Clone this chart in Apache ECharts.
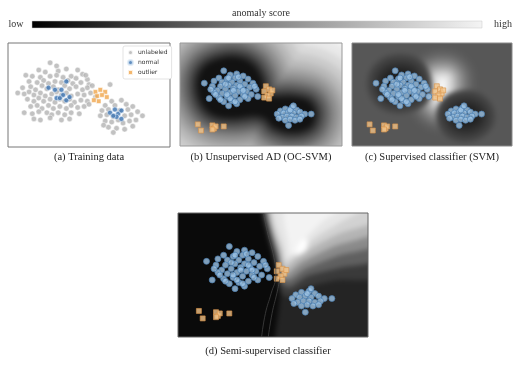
<!DOCTYPE html>
<html><head><meta charset="utf-8">
<script src="https://cdn.jsdelivr.net/npm/echarts@6/dist/echarts.min.js"></script>
<style>
html,body{margin:0;padding:0;background:#fff;}
#stage{position:relative;width:514px;height:365px;overflow:hidden;background:#fff;}
.clip{position:absolute;overflow:hidden;}
.bg{position:absolute;filter:blur(2.5px);}
#main{position:absolute;left:0;top:0;width:514px;height:365px;}
</style></head>
<body>
<div id="stage">
<div class="clip" id="clipB"><div class="bg" id="bgB"></div></div>
<div class="clip" id="clipC"><div class="bg" id="bgC"></div></div>
<div class="clip" id="clipD"><div class="bg" id="bgD"></div></div>
<div id="main"></div>
</div>
<script>
// ---------------- DATA (axis units 0..10 in every panel) ----------------
const captions = ['(a) Training data', '(b) Unsupervised AD (OC-SVM)', '(c) Supervised classifier (SVM)', '(d) Semi-supervised classifier'];
const legendNames = ['unlabeled', 'normal', 'outlier'];
const scaleTitle = 'anomaly score';
const scaleEnds = ['low', 'high'];

// (a) training data
const unlabeledA = [
 [2.6,8.1],[3.0,7.8],[1.9,7.4],[2.3,7.2],[3.1,7.3],[3.6,7.5],[4.3,7.4],[4.6,7.0],
 [1.1,6.9],[1.5,6.8],[2.0,6.7],[2.6,6.8],[3.0,6.9],[3.4,6.7],[3.9,6.8],[4.2,6.6],[4.9,6.5],
 [1.3,6.3],[1.8,6.2],[2.2,6.4],[2.5,6.1],[2.9,6.3],[3.3,6.2],[3.7,6.4],[4.0,6.1],[4.5,6.2],[5.0,6.0],
 [0.9,5.7],[1.4,5.8],[1.7,5.5],[2.1,5.9],[2.4,5.6],[2.8,5.8],[3.1,5.5],[3.5,5.9],[3.8,5.6],[4.2,5.8],[4.6,5.5],[4.9,5.7],
 [0.6,5.2],[1.0,5.1],[1.3,5.3],[1.6,5.0],[2.0,5.2],[2.3,4.9],[2.7,5.1],[3.0,5.3],[3.3,5.0],[3.6,5.2],[3.9,4.9],[4.3,5.1],[4.7,5.0],[5.1,5.2],[5.4,4.8],
 [1.2,4.6],[1.6,4.4],[1.9,4.7],[2.2,4.4],[2.6,4.6],[2.9,4.3],[3.2,4.6],[3.5,4.4],[3.8,4.6],[4.1,4.3],[4.5,4.5],[4.9,4.4],
 [1.4,3.9],[1.8,4.0],[2.1,3.7],[2.5,4.0],[2.8,3.7],[3.2,3.9],[3.6,3.7],[3.9,4.0],[4.3,3.8],[4.7,3.9],
 [1.0,3.3],[1.5,3.2],[1.9,3.4],[2.4,3.3],[2.7,3.1],[3.1,3.3],[3.5,3.1],[3.9,3.3],[4.4,3.2],
 [1.6,2.7],[2.0,2.6],[2.6,2.8],[3.3,2.6],[3.8,2.7],
 [5.2,5.9],[6.3,6.0],[5.0,4.1],[4.8,6.9],
 [6.4,4.4],[7.0,4.5],[6.0,4.0],[6.6,4.0],[7.3,4.1],[7.7,3.9],[5.8,3.5],[6.2,3.6],[6.9,3.5],[7.4,3.6],[8.0,3.4],
 [5.7,3.0],[6.1,3.1],[6.5,2.9],[7.2,3.0],[7.6,3.1],[8.3,3.0],[6.0,2.5],[6.4,2.4],[6.8,2.6],[7.1,2.3],[7.5,2.5],
 [7.9,2.6],[6.2,1.9],[6.7,1.8],[7.2,1.7],[7.7,2.0],[6.5,1.4],[5.9,2.1]
];
const normalA = [[2.5,5.7],[2.9,5.5],[3.3,5.5],[3.6,6.3],[3.4,5.0],[3.0,4.7],[3.2,4.7],[3.6,4.5],[3.8,4.8],
 [6.3,3.3],[6.6,3.6],[6.8,3.2],[7.0,3.5],[6.7,2.9],[7.0,2.7],[6.5,3.0]];
const outlierA = [[5.4,5.3],[5.7,5.5],[6.0,5.3],[5.5,4.9],[5.8,5.0],[6.1,4.8],[5.3,4.5],[5.6,4.4]];

// (b)(c)(d) labeled points
const normalLeft = [
 [2.7,7.3],[3.1,6.9],[3.5,7.0],[3.9,6.8],[3.4,6.6],[2.4,6.6],[2.9,6.5],[4.2,6.5],[3.7,6.3],[3.2,6.2],
 [2.6,6.2],[2.1,6.3],[1.5,6.1],[4.5,6.1],[4.0,6.0],[3.5,5.9],[3.0,5.9],[2.5,5.8],[2.0,5.8],[4.3,5.7],
 [3.8,5.6],[3.3,5.6],[2.8,5.5],[2.3,5.4],[4.7,5.5],[4.1,5.3],[3.6,5.3],[3.1,5.2],[2.6,5.1],[2.1,5.2],
 [4.4,5.0],[3.9,5.0],[3.4,4.9],[2.9,4.8],[2.4,4.7],[1.8,4.6],[4.8,4.8],[4.2,4.6],[3.7,4.5],[3.2,4.4],
 [2.7,4.3],[3.5,4.1],[3.0,3.9],[2.2,5.0],[3.3,5.4],[3.7,5.8],[2.8,6.0],[3.9,5.4],[4.0,4.8],[2.5,4.5],
 [3.6,6.7],[1.9,5.5],[4.6,5.8],[3.1,4.6],[2.9,5.0],[3.4,4.3],[3.0,6.6]
];
const normalRight = [
 [6.2,3.4],[6.5,3.6],[6.9,3.7],[7.2,3.5],[6.0,3.1],[6.4,3.2],[6.7,3.3],[7.0,3.2],[7.4,3.3],[7.7,3.1],
 [6.3,2.8],[6.6,2.9],[6.9,2.9],[7.2,2.8],[7.5,2.9],[6.5,2.5],[6.8,2.6],[7.1,2.5],[6.7,2.0],[8.1,3.1],
 [6.1,2.7],[7.4,2.6],[6.8,3.5],[7.0,3.9]
];
const outlierMid = [[5.3,5.8],[5.5,5.5],[5.2,5.3],[5.6,5.1],[5.4,4.9],[5.2,4.7],[5.5,4.6],[5.7,5.4]];
const outlierLow = [[1.1,2.1],[1.3,1.5],[2.0,2.0],[2.1,1.7],[2.2,1.9],[2.0,1.6],[2.7,1.9]];

// score-field shapes
const ocsvmCore = [[1.1,6.1],[1.5,7.6],[2.5,8.4],[3.6,8.5],[4.5,7.8],[5.0,6.5],[5.2,5.2],[5.7,4.7],[6.8,4.7],[7.9,4.3],
 [8.3,3.2],[8.0,1.9],[6.9,1.4],[5.8,1.9],[5.3,2.7],[4.6,3.0],[3.4,2.8],[2.2,3.0],[1.4,4.1]];
const svmLeftCore = [[2.0,6.3],[2.4,7.1],[3.0,7.3],[3.6,7.1],[3.9,6.3],[3.9,5.3],[3.4,4.9],[2.8,4.8],[2.2,5.2]];
const svmRightCore = [[6.4,3.4],[7.0,3.8],[7.6,3.6],[7.9,2.9],[7.6,2.2],[6.9,2.0],[6.4,2.5]];
const svmPeak = [[5.5,6.4],[5.8,6.4],[5.8,4.4],[5.5,4.4]];
const semiMid = [[5.1,-0.8],[5.1,0],[5.3,2.3],[5.4,4.2],[5.3,5.6],[4.8,7.6],[4.5,10],[4.4,10.8],[10.8,10.8],[10.8,-0.8]];
const semiPlume = [
 [[5.4,3.6],[5.1,6.0],[4.7,8.4],[4.5,10.4],[10.4,10.4],[10.4,4.8],[8.4,4.6],[6.7,4.0],[5.8,3.2]],
 [[5.45,4.3],[5.2,6.4],[4.75,8.8],[4.6,10.4],[10.4,10.4],[10.4,6.2],[8.6,5.6],[6.8,4.9],[5.9,4.0]],
 [[5.5,4.7],[5.25,6.6],[4.85,8.8],[4.7,10.4],[10.4,10.4],[10.4,7.4],[8.5,6.6],[6.7,5.5],[5.9,4.6]],
 [[5.55,5.0],[5.3,6.8],[4.9,8.8],[4.8,10.4],[10.4,10.4],[10.4,8.4],[8.2,7.3],[6.5,6.0],[5.8,5.1]],
 [[5.6,5.6],[5.4,7.1],[5.0,8.8],[4.9,10.4],[10.4,10.4],[10.4,9.3],[8.6,8.4],[7.3,7.4],[6.2,6.3]],
 [[5.7,6.2],[5.5,7.4],[5.15,9.0],[5.05,10.4],[9.8,10.4],[8.6,9.3],[7.3,8.1],[6.3,6.8]],
 [[5.9,6.6],[5.8,7.7],[5.6,9.2],[5.6,10.4],[8.6,10.4],[7.6,9.3],[6.8,8.1],[6.4,7.0]],
 [[6.2,6.6],[6.3,7.4],[6.6,7.9],[6.85,7.7],[6.7,6.9]]
];
const semiLines = [
 [[4.4,0],[4.6,1.9],[4.9,3.5],[5.15,5.0],[5.05,6.4],[4.7,8.5],[4.5,10]],
 [[4.75,0],[4.95,1.9],[5.2,3.5],[5.35,4.6]]
];

// ---------------- STYLE / LAYOUT ----------------
const boxes = {
  a: {left: 8, top: 43, width: 162, height: 104},
  b: {left: 180, top: 43, width: 162, height: 103},
  c: {left: 352, top: 43, width: 160, height: 103},
  d: {left: 178, top: 213, width: 190, height: 124}
};
const ocsvmRings = [[64,'#e9e9e9'],[54,'#dadada'],[45,'#cacaca'],[37,'#b9b9b9'],[30,'#a5a5a5'],[24,'#8f8f8f'],[18,'#767676'],[13,'#5c5c5c'],[8,'#424242'],[4,'#2a2a2a']];
const peakRings = [[32,'#5d5d5d'],[27,'#686868'],[23,'#777777'],[19,'#8b8b8b'],[15,'#a3a3a3'],[11,'#bcbcbc'],[8,'#d3d3d3'],[4,'#e9e9e9']];
const darkRings = [[17,'#474747'],[13,'#3e3e3e'],[9,'#343434'],[5,'#2a2a2a']];
const plumeColors = ['#3a3a3a','#606060','#8a8a8a','#b4b4b4','#d2d2d2','#e6e6e6','#f3f3f3','#fefefe'];
const serif = 'Liberation Serif, Times New Roman, serif';

const M = 14;
function cover(api, color) {
  return {type:'polygon', shape:{points:[[-3,-3],[13,-3],[13,13],[-3,13]].map(p=>api.coord(p))}, style:{fill:color}};
}
function ringed(api, pts, rings, core, smooth) {
  const P = pts.map(p => api.coord(p));
  const out = rings.map(r => ({type:'polygon', shape:{points:P, smooth:smooth}, style:{fill:r[1], stroke:r[1], lineWidth:2*r[0], lineJoin:'round'}}));
  out.push({type:'polygon', shape:{points:P, smooth:smooth}, style:{fill:core}});
  return out;
}
function makeBg(key, box, drawFn) {
  const clip = document.getElementById('clip'+key);
  Object.assign(clip.style, {left:box.left+'px', top:box.top+'px', width:box.width+'px', height:box.height+'px'});
  const el = document.getElementById('bg'+key);
  Object.assign(el.style, {left:-M+'px', top:-M+'px', width:(box.width+2*M)+'px', height:(box.height+2*M)+'px'});
  const ch = echarts.init(el);
  ch.setOption({
    animation:false,
    grid:{left:M, top:M, width:box.width, height:box.height, show:false},
    xAxis:{type:'value', min:0, max:10, show:false},
    yAxis:{type:'value', min:0, max:10, show:false},
    series:[{type:'custom', coordinateSystem:'cartesian2d', clip:false, silent:true, data:[[0,0]],
      renderItem:(params, api)=>({type:'group', children:drawFn(api)})}]
  });
}
makeBg('B', boxes.b, api => [cover(api,'#f2f2f2')].concat(ringed(api, ocsvmCore, ocsvmRings, '#121212', 0.35)));
makeBg('C', boxes.c, api => [cover(api,'#575757')]
  .concat(ringed(api, svmPeak, peakRings, '#f8f8f8', 0))
  .concat(ringed(api, svmLeftCore, darkRings, '#1f1f1f', 0.4))
  .concat(ringed(api, svmRightCore, darkRings, '#1f1f1f', 0.4)));
makeBg('D', boxes.d, api => {
  const out = [cover(api,'#0a0a0a'), {type:'polygon', shape:{points:semiMid.map(p=>api.coord(p)), smooth:0.3}, style:{fill:'#242424'}}];
  semiPlume.forEach((poly,i)=> out.push({type:'polygon', shape:{points:poly.map(p=>api.coord(p)), smooth:0.2}, style:{fill:plumeColors[i]}}));
  return out;
});

// ---------------- MAIN CHART ----------------
const keys = ['a','b','c','d'];
const gridBorder = ['#777','#999','#888','#666'];
const main = echarts.init(document.getElementById('main'));
const series = [
  {name:'unlabeled', type:'scatter', xAxisIndex:0, yAxisIndex:0, data:unlabeledA, symbolSize:5.5,
   itemStyle:{color:'#b3b3b3', borderColor:'#fff', borderWidth:0.6}},
  {name:'outlier', type:'scatter', xAxisIndex:0, yAxisIndex:0, data:outlierA, symbol:'rect', symbolSize:4.5,
   itemStyle:{color:'#f0a54a', borderColor:'#fff', borderWidth:0.6}},
  {name:'normal', type:'scatter', xAxisIndex:0, yAxisIndex:0, data:normalA, symbolSize:5,
   itemStyle:{color:'#3a72b0', borderColor:'#dbe8f5', borderWidth:0.8}}
];
semiLines.forEach(l => series.push({type:'line', xAxisIndex:3, yAxisIndex:3, data:l, smooth:true, symbol:'none', silent:true,
  lineStyle:{color:'#4a4a4a', width:0.7}}));
[1,2,3].forEach(g => {
  series.push({name:'normal', type:'scatter', xAxisIndex:g, yAxisIndex:g, data:normalLeft.concat(normalRight), symbolSize:6,
    itemStyle:{color:'#9ec4e6', borderColor:'#4d7fb0', borderWidth:0.9}});
  series.push({name:'outlier', type:'scatter', xAxisIndex:g, yAxisIndex:g, data:outlierMid.concat(outlierLow), symbol:'rect', symbolSize:5,
    itemStyle:{color:'#f3c48a', borderColor:'#d8924a', borderWidth:0.8}});
});
const capPos = [[89,157],[261,157],[432,157],[268,351]];
main.setOption({
  animation:false,
  grid: keys.map((k,i)=>Object.assign({show:true, borderColor:gridBorder[i], borderWidth:1,
    backgroundColor: i===0 ? '#fff' : 'transparent'}, boxes[k])),
  xAxis: keys.map((k,i)=>({gridIndex:i, type:'value', min:0, max:10, show:false})),
  yAxis: keys.map((k,i)=>({gridIndex:i, type:'value', min:0, max:10, show:false})),
  legend:{data:[{name:legendNames[0], icon:'circle'},{name:legendNames[1], icon:'circle'},{name:legendNames[2], icon:'rect'}],
    orient:'vertical', left:123, top:46, itemWidth:5, itemHeight:5, itemGap:3, selectedMode:false,
    textStyle:{fontSize:6, color:'#333', fontFamily:'DejaVu Sans'},
    backgroundColor:'#fff', borderColor:'#d0d0d0', borderWidth:0.6, borderRadius:2, padding:[3,4]},
  series: series,
  graphic: [
    {type:'rect', shape:{x:32, y:21, width:450, height:7},
     style:{fill:new echarts.graphic.LinearGradient(0,0,1,0,[{offset:0,color:'#000'},{offset:0.5,color:'#808080'},{offset:1,color:'#f4f4f4'}]), stroke:'#c8c8c8', lineWidth:0.5}},
    {type:'text', x:16, y:24, style:{text:scaleEnds[0], font:'10px '+serif, fill:'#333', textAlign:'center', textVerticalAlign:'middle'}},
    {type:'text', x:503, y:24, style:{text:scaleEnds[1], font:'10px '+serif, fill:'#333', textAlign:'center', textVerticalAlign:'middle'}},
    {type:'text', x:261, y:13, style:{text:scaleTitle, font:'10px '+serif, fill:'#333', textAlign:'center', textVerticalAlign:'middle'}}
  ].concat(captions.map((c,i)=>({type:'text', x:capPos[i][0], y:capPos[i][1],
    style:{text:c, font:'10.5px '+serif, fill:'#222', textAlign:'center', textVerticalAlign:'middle'}})))
});
</script>
</body></html>
